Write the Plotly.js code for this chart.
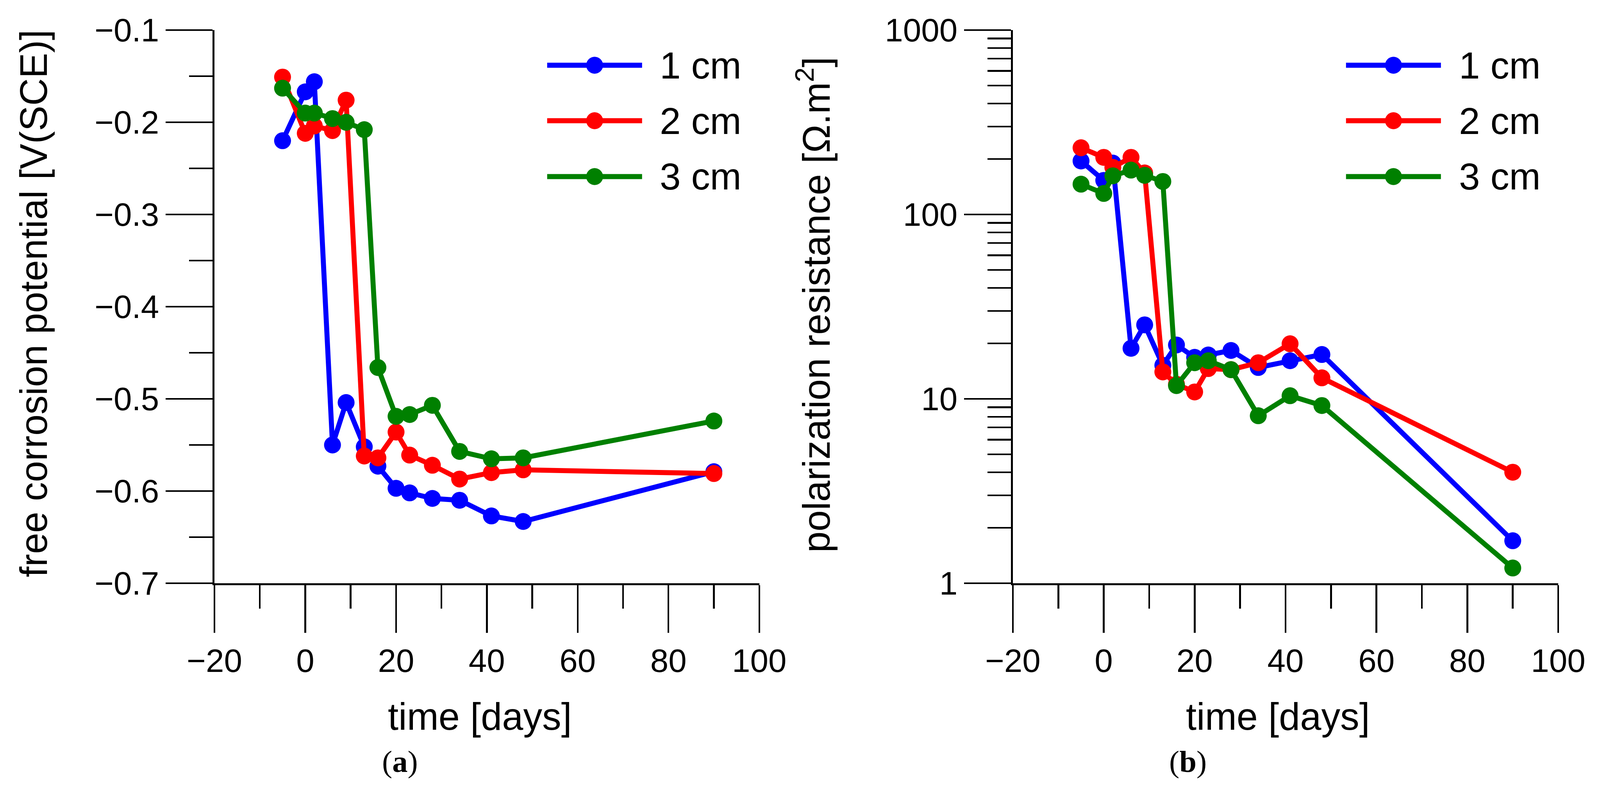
<!DOCTYPE html>
<html>
<head>
<meta charset="utf-8">
<script src="https://cdn.plot.ly/plotly-3.0.1.min.js"></script>
<style>
html,body{margin:0;padding:0;background:#ffffff;overflow:hidden;}
#chart{width:100vw;height:100vh;}
</style>
</head>
<body>
<div id="chart"></div>
<script>
// ---------------- data ----------------
const days = [-5, 0, 2, 6, 9, 13, 16, 20, 23, 28, 34, 41, 48, 90];
const seriesNames = ['1 cm', '2 cm', '3 cm'];
const seriesColors = ['#0000ff', '#ff0000', '#008000'];

// free corrosion potential [V(SCE)]
const potential1cm = [-0.220, -0.167, -0.156, -0.550, -0.504, -0.552, -0.573, -0.597, -0.602, -0.608, -0.610, -0.627, -0.633, -0.579];
const potential2cm = [-0.151, -0.212, -0.204, -0.209, -0.176, -0.562, -0.564, -0.536, -0.561, -0.572, -0.587, -0.580, -0.577, -0.581];
const potential3cm = [-0.163, -0.190, -0.190, -0.196, -0.200, -0.208, -0.466, -0.519, -0.517, -0.507, -0.557, -0.565, -0.564, -0.524];

// polarization resistance [Ohm.m2]
const resistance1cm = [195, 153, 190, 18.8, 25.2, 15.2, 19.6, 16.8, 17.3, 18.3, 14.8, 16.1, 17.4, 1.70];
const resistance2cm = [230, 204, 180, 204, 168, 14.0, 12.0, 10.9, 14.6, 14.4, 15.7, 19.9, 13.0, 4.0];
const resistance3cm = [146, 130, 162, 174, 163, 151, 11.8, 15.7, 16.1, 14.4, 8.1, 10.4, 9.2, 1.21];

const logTickVals = [1, 10, 100, 1000];
const logTickText = ['1', '10', '100', '1000'];
const xTitle = 'time [days]';
const yTitleA = 'free corrosion potential [V(SCE)]';
const yTitleB = 'polarization resistance [Ω.m<sup>2</sup>]';
const panelLabels = ['a', 'b'];

// ---------------- layout (designed for 4164 x 2012, scaled to the window) ----------------
const RW = 4164, RH = 2012;
const W = window.innerWidth || RW, H = window.innerHeight || RH;
const sx = W / RW, sy = H / RH, s = Math.min(sx, sy);
const M = {l: Math.round(558 * sx), r: Math.round(109 * sx), t: Math.round(77 * sy), b: Math.round(519 * sy)};
const PW = W - M.l - M.r, PH = H - M.t - M.b;
const px = x => (x * sx - M.l) / PW;          // reference pixel -> paper x
const py = y => (H - M.b - y * sy) / PH;      // reference pixel -> paper y

const FONT = 'Liberation Sans, Arial, Helvetica, sans-serif';
const LW = 13 * s, MS = 44 * s;

const potentials = [potential1cm, potential2cm, potential3cm];
const resistances = [resistance1cm, resistance2cm, resistance3cm];

const traces = [];
potentials.forEach((vals, i) => traces.push({
  type: 'scatter', mode: 'lines+markers', x: days, y: vals, name: seriesNames[i],
  xaxis: 'x', yaxis: 'y', showlegend: false,
  line: {color: seriesColors[i], width: LW}, marker: {color: seriesColors[i], size: MS}
}));
resistances.forEach((vals, i) => traces.push({
  type: 'scatter', mode: 'lines+markers', x: days, y: vals, name: seriesNames[i],
  xaxis: 'x2', yaxis: 'y2', showlegend: false,
  line: {color: seriesColors[i], width: LW}, marker: {color: seriesColors[i], size: MS}
}));

const tickFont = {family: FONT, size: 85 * s, color: '#000'};
const titleFont = {family: FONT, size: 99 * s, color: '#000'};
const minorStyle = {ticks: 'outside', ticklen: 61 * s, tickwidth: 4.5 * s, tickcolor: '#000', showgrid: false};

function xAxis(domain, anchor) {
  return {
    domain: domain, anchor: anchor, range: [-20, 100], tick0: 0, dtick: 20,
    showline: true, linewidth: 5 * s, linecolor: '#000', mirror: false,
    ticks: 'outside', ticklen: 124 * s, tickwidth: 4.5 * s, tickcolor: '#000',
    minor: Object.assign({dtick: 10, tick0: 0}, minorStyle),
    showgrid: false, zeroline: false, automargin: false,
    tickfont: tickFont, ticklabelstandoff: 78 * s
  };
}
function minorLog() {
  const v = [];
  logTickVals.slice(0, -1).forEach(d => { for (let k = 2; k <= 9; k++) v.push(k * d); });
  return v;
}
function yCommon() {
  return {
    domain: [0, 1], showline: true, linewidth: 5 * s, linecolor: '#000',
    ticks: 'outside', ticklen: 122 * s, tickwidth: 4.5 * s, tickcolor: '#000',
    showgrid: false, zeroline: false, automargin: false,
    tickfont: tickFont, ticklabelstandoff: 56 * s
  };
}

const layout = {
  width: W, height: H, margin: M,
  paper_bgcolor: '#fff', plot_bgcolor: '#fff',
  font: {family: FONT, color: '#000'},
  showlegend: false,
  xaxis: xAxis([0, px(1976)], 'y'),
  xaxis2: xAxis([px(2636), 1], 'y2'),
  yaxis: Object.assign(yCommon(), {
    anchor: 'x', range: [-0.7, -0.1], tick0: 0, dtick: 0.1,
    minor: Object.assign({dtick: 0.05, tick0: 0}, minorStyle)
  }),
  yaxis2: Object.assign(yCommon(), {
    anchor: 'x2', type: 'log', range: [0, 3],
    tickmode: 'array', tickvals: logTickVals, ticktext: logTickText,
    minor: Object.assign({tickmode: 'array', tickvals: minorLog()}, minorStyle)
  }),
  shapes: [], annotations: []
};

// axis titles
const ann = (x, y, text, font, extra) => Object.assign({
  xref: 'paper', yref: 'paper', x: px(x), y: py(y), xanchor: 'center', yanchor: 'middle',
  text: text, showarrow: false, font: font
}, extra || {});
layout.annotations.push(ann(1249, 1834, xTitle, titleFont));
layout.annotations.push(ann(3326, 1834, xTitle, titleFont));
layout.annotations.push(ann(87, 777, yTitleA, titleFont, {textangle: -90}));
layout.annotations.push(ann(2118, 780, yTitleB, titleFont, {textangle: -90}));

// legends (one per panel)
const legendRowsY = [167, 309, 452];
const legendX = [{x0: 1424, x1: 1671, tx: 1715}, {x0: 3503, x1: 3750, tx: 3795}];
legendX.forEach(L => {
  seriesNames.forEach((nm, i) => {
    const yy = py(legendRowsY[i]);
    layout.shapes.push({type: 'line', xref: 'paper', yref: 'paper', x0: px(L.x0), x1: px(L.x1), y0: yy, y1: yy,
      line: {color: seriesColors[i], width: LW}});
    layout.shapes.push({type: 'circle', xref: 'paper', yref: 'paper', xsizemode: 'pixel', ysizemode: 'pixel',
      xanchor: px((L.x0 + L.x1) / 2), yanchor: yy, x0: -MS / 2, x1: MS / 2, y0: -MS / 2, y1: MS / 2,
      fillcolor: seriesColors[i], line: {width: 0}});
    layout.annotations.push({xref: 'paper', yref: 'paper', x: px(L.tx), y: yy, xanchor: 'left', yanchor: 'middle',
      text: nm, showarrow: false, font: {family: FONT, size: 98 * s, color: '#000'}});
  });
});

// panel labels
[1041, 3091].forEach((cx, i) => layout.annotations.push(ann(cx, 1949,
  '(<b>' + panelLabels[i] + '</b>)', {family: 'Liberation Serif, Times New Roman, serif', size: 80 * s, color: '#000'})));

Plotly.newPlot('chart', traces, layout, {staticPlot: true, displayModeBar: false});
</script>
</body>
</html>
